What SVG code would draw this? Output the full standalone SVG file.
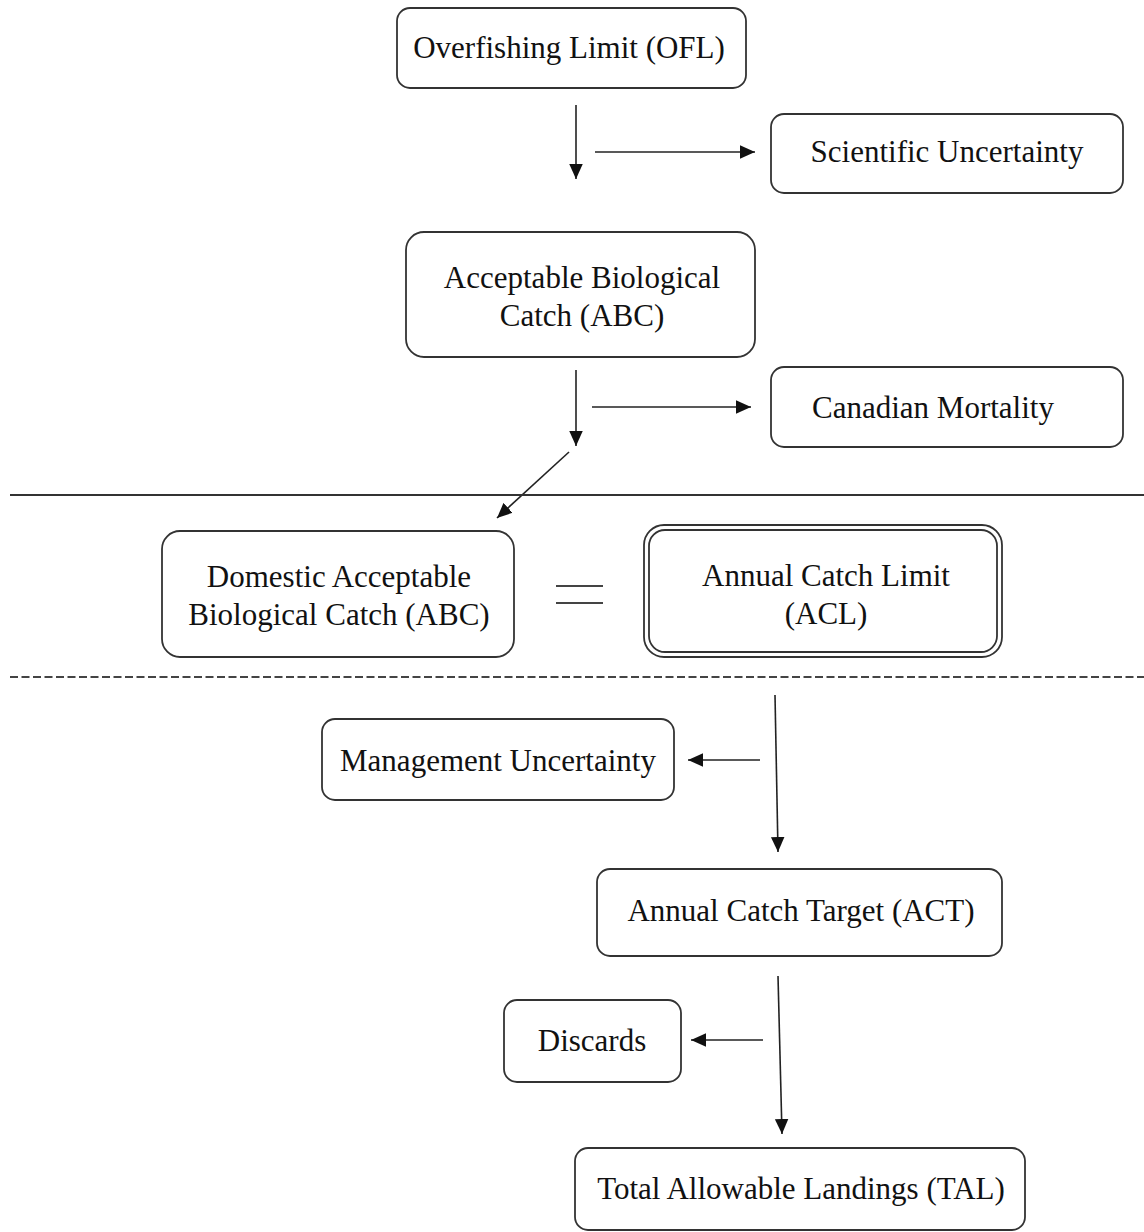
<svg xmlns="http://www.w3.org/2000/svg" width="1144" height="1232" viewBox="0 0 1144 1232">
<style>
.box{fill:#fff;stroke:#333;stroke-width:1.8}
.t{font-family:"Liberation Serif","Times New Roman",serif;font-size:31px;fill:#111;text-anchor:middle}
.c{stroke:#222;stroke-width:1.6;fill:none}
</style>
<defs>
<marker id="ah" viewBox="0 0 10 10" refX="10" refY="5" markerWidth="15" markerHeight="15" markerUnits="userSpaceOnUse" orient="auto">
<path d="M0,0.5 L10,5 L0,9.5 z" fill="#111"/>
</marker>
</defs>
<rect width="1144" height="1232" fill="#fff"/>
<g id="connectors">
<line class="c" x1="576" y1="105" x2="576" y2="179" marker-end="url(#ah)"/>
<line class="c" x1="595" y1="152" x2="755" y2="152" marker-end="url(#ah)"/>
<line class="c" x1="576" y1="370" x2="576" y2="446" marker-end="url(#ah)"/>
<line class="c" x1="592" y1="407" x2="751" y2="407" marker-end="url(#ah)"/>
<line class="c" x1="569" y1="452" x2="497" y2="518" marker-end="url(#ah)"/>
<line class="c" x1="775" y1="695" x2="778" y2="852" marker-end="url(#ah)"/>
<line class="c" x1="760" y1="760" x2="688" y2="760" marker-end="url(#ah)"/>
<line class="c" x1="778" y1="976" x2="782" y2="1134" marker-end="url(#ah)"/>
<line class="c" x1="763" y1="1040" x2="691" y2="1040" marker-end="url(#ah)"/>
<line x1="10" y1="495" x2="1144" y2="495" stroke="#333" stroke-width="1.8"/>
<line x1="10" y1="677" x2="1144" y2="677" stroke="#444" stroke-width="1.8" stroke-dasharray="8,3.5"/>
<line x1="556" y1="586" x2="603" y2="586" stroke="#444" stroke-width="1.8"/>
<line x1="556" y1="603" x2="603" y2="603" stroke="#444" stroke-width="1.8"/>
</g>
<g id="ofl"><rect class="box" x="397" y="8" width="349" height="80" rx="13"/><text class="t" x="569" y="58">Overfishing Limit (OFL)</text></g>
<g id="sci"><rect class="box" x="771" y="114" width="352" height="79" rx="13"/><text class="t" x="947" y="162">Scientific Uncertainty</text></g>
<g id="abc"><rect class="box" x="406" y="232" width="349" height="125" rx="18"/><text class="t" x="582" y="288">Acceptable Biological</text><text class="t" x="582" y="326">Catch (ABC)</text></g>
<g id="can"><rect class="box" x="771" y="367" width="352" height="80" rx="13"/><text class="t" x="933" y="418">Canadian Mortality</text></g>
<g id="dabc"><rect class="box" x="162" y="531" width="352" height="126" rx="18"/><text class="t" x="339" y="587">Domestic Acceptable</text><text class="t" x="339" y="625">Biological Catch (ABC)</text></g>
<g id="acl"><rect class="box" x="644" y="525" width="358" height="132" rx="20" stroke-width="2.4"/><rect class="box" x="649" y="530" width="348" height="122" rx="16" stroke-width="1.4"/><text class="t" x="826" y="586">Annual Catch Limit</text><text class="t" x="826" y="624">(ACL)</text></g>
<g id="mgmt"><rect class="box" x="322" y="719" width="352" height="81" rx="13"/><text class="t" x="498" y="771">Management Uncertainty</text></g>
<g id="act"><rect class="box" x="597" y="869" width="405" height="87" rx="13"/><text class="t" x="801" y="921">Annual Catch Target (ACT)</text></g>
<g id="disc"><rect class="box" x="504" y="1000" width="177" height="82" rx="13"/><text class="t" x="592" y="1051">Discards</text></g>
<g id="tal"><rect class="box" x="575" y="1148" width="450" height="82" rx="13"/><text class="t" x="801" y="1199">Total Allowable Landings (TAL)</text></g>
</svg>
